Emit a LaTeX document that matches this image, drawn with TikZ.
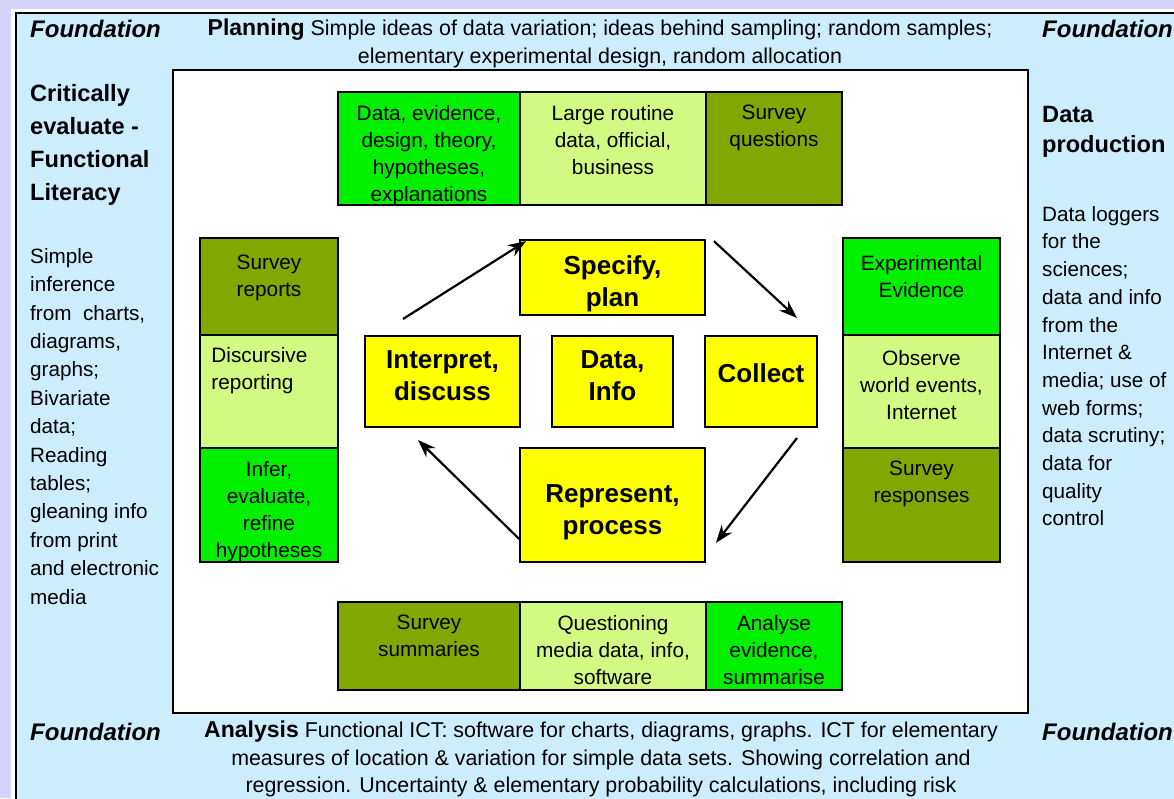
\documentclass[tikz,border=0pt]{standalone}
\usepackage{fontspec}
\setmainfont{Liberation Sans}
\usetikzlibrary{arrows.meta,positioning}

\definecolor{lavbg}{HTML}{D4D4FA}
\definecolor{panelblue}{HTML}{CCEEFC}
\definecolor{brightgrn}{HTML}{00F000}
\definecolor{palegrn}{HTML}{D2FA82}
\definecolor{olivegrn}{HTML}{80A800}
\definecolor{stageyel}{HTML}{FFFF00}

\tikzset{
	cell/.style={draw=black, line width=1.5pt, inner sep=0pt},
	celltxt/.style={anchor=north, yshift=-14pt, align=center, inner sep=0pt, font=\fontsize{20.8}{27}\selectfont},
	stage/.style={draw=black, line width=1.8pt, fill=stageyel, inner sep=0pt},
	stagetxt/.style={align=center, inner sep=0pt, font=\bfseries\fontsize{26}{32}\selectfont},
	flow/.style={-{Stealth[length=18pt,width=13pt]}, line width=2.2pt},
	sidehead/.style={anchor=north west, align=left, inner sep=0pt, font=\bfseries\fontsize{23.6}{33}\selectfont},
	sidetxt/.style={anchor=north west, align=left, inner sep=0pt, font=\fontsize{20.7}{28.4}\selectfont},
	found/.style={anchor=west, inner sep=0pt, font=\bfseries\itshape\fontsize{24}{28}\selectfont},
	bandtxt/.style={align=center, inner sep=0pt, font=\fontsize{21.4}{27.5}\selectfont},
}

\begin{document}
\begin{tikzpicture}[x=1pt, y=-1pt]
	\useasboundingbox (0,0) rectangle (1174,798);

	% backdrop and frame
	\fill[lavbg] (0,0) rectangle (1174,798);
	\fill[white] (11,9) rectangle (1174,798);
	\draw[line width=1.5pt, fill=panelblue] (16,13) rectangle (1190,810);
	\draw[line width=1.8pt, fill=white] (173,70) rectangle (1028,713);

	% band texts
	\node[found] (fnw) at (30,29) {Foundation};
	\node[found] (fne) at (1042,29) {Foundation};
	\node[found] (fsw) at (30,732) {Foundation};
	\node[found] (fse) at (1042,732) {Foundation};
	\node[bandtxt] (plan) at (600,43.5) {{\bfseries\fontsize{23}{28}\selectfont Planning} Simple ideas of data variation; ideas behind sampling; random samples;\\elementary experimental design, random allocation};
	\node[bandtxt] (anal) at (601,759) {{\bfseries\fontsize{23}{28}\selectfont Analysis} Functional ICT: software for charts, diagrams, graphs. ICT for elementary\\measures of location \& variation for simple data sets. Showing correlation and\\regression. Uncertainty \& elementary probability calculations, including risk};

	% side columns
	\node[sidehead] (crit) at (30,84) {Critically\\evaluate -\\Functional\\Literacy};
	\node[sidetxt] (infer) at (30,248) {Simple\\inference\\from\ \ charts,\\diagrams,\\graphs;\\Bivariate\\data;\\Reading\\tables;\\gleaning info\\from print\\and electronic\\media};
	\node[sidehead, font=\bfseries\fontsize{23.6}{30.5}\selectfont] (prod) at (1042,106) {Data\\production};
	\node[sidetxt, font=\fontsize{20.7}{27.7}\selectfont] (logg) at (1042,206) {Data loggers\\for the\\sciences;\\data and info\\from the\\Internet \&\\media; use of\\web forms;\\data scrutiny;\\data for\\quality\\control};

	% top row
	\node[cell, fill=brightgrn, minimum width=182pt, minimum height=113pt] (t1) at (429,148.5) {};
	\node[cell, fill=palegrn, minimum width=186pt, minimum height=113pt] (t2) at (613,148.5) {};
	\node[cell, fill=olivegrn, minimum width=136pt, minimum height=113pt] (t3) at (774,148.5) {};
	\node[celltxt] (t1x) at (t1.north) {Data, evidence,\\design, theory,\\hypotheses,\\explanations};
	\node[celltxt] (t2x) at (t2.north) {Large routine\\data, official,\\business};
	\node[celltxt] (t3x) at (t3.north) {Survey\\questions};

	% left column
	\node[cell, fill=olivegrn, minimum width=138pt, minimum height=97pt] (l1) at (269,286.5) {};
	\node[cell, fill=palegrn, minimum width=138pt, minimum height=113pt] (l2) at (269,391.5) {};
	\node[cell, fill=brightgrn, minimum width=138pt, minimum height=114pt] (l3) at (269,505) {};
	\node[celltxt, yshift=-4pt] (l1x) at (l1.north) {Survey\\reports};
	\node[celltxt, anchor=north west, align=left] (l2x) at ([shift={(12,-1)}]l2.north west) {Discursive\\reporting};
	\node[celltxt] (l3x) at (l3.north) {Infer,\\evaluate,\\refine\\hypotheses};

	% right column
	\node[cell, fill=brightgrn, minimum width=157pt, minimum height=97pt] (r1) at (921.5,286.5) {};
	\node[cell, fill=palegrn, minimum width=157pt, minimum height=113pt] (r2) at (921.5,391.5) {};
	\node[cell, fill=olivegrn, minimum width=157pt, minimum height=114pt] (r3) at (921.5,505) {};
	\node[celltxt, yshift=-4pt] (r1x) at (r1.north) {Experimental\\Evidence};
	\node[celltxt, yshift=-2pt] (r2x) at (r2.north) {Observe\\world events,\\Internet};
	\node[celltxt] (r3x) at (r3.north) {Survey\\responses};

	% bottom row
	\node[cell, fill=olivegrn, minimum width=182pt, minimum height=88pt] (b1) at (429,646) {};
	\node[cell, fill=palegrn, minimum width=186pt, minimum height=88pt] (b2) at (613,646) {};
	\node[cell, fill=brightgrn, minimum width=136pt, minimum height=88pt] (b3) at (774,646) {};
	\node[celltxt] (b1x) at (b1.north) {Survey\\summaries};
	\node[celltxt] (b2x) at (b2.north) {Questioning\\media data, info,\\software};
	\node[celltxt] (b3x) at (b3.north) {Analyse\\evidence,\\summarise};

	% cycle
	\node[stage, minimum width=185pt, minimum height=75pt] (spec) at (612.5,277.5) {};
	\node[stage, minimum width=155pt, minimum height=91pt] (interp) at (442.5,381.5) {};
	\node[stage, minimum width=121pt, minimum height=91pt] (data) at (612.5,381.5) {};
	\node[stage, minimum width=112pt, minimum height=91pt] (coll) at (761,381.5) {};
	\node[stage, minimum width=185pt, minimum height=114pt] (rep) at (612.5,505) {};
	\node[stagetxt] (specx) at (612.5,284) {Specify,\\plan};
	\node[stagetxt] (interpx) at (442.5,376) {Interpret,\\discuss};
	\node[stagetxt] (datax) at (612.5,376) {Data,\\Info};
	\node[stagetxt] (collx) at (761,373) {Collect};
	\node[stagetxt] (repx) at (612.5,512) {Represent,\\process};

	\coordinate (a1) at (403,319);
	\coordinate (a2) at (797,318);
	\coordinate (a3) at (797,438);
	\coordinate (a4) at (418,440);
	\draw[flow] (a1) -- ([shift={(7,2)}]spec.north west);
	\draw[flow] ([shift={(8,2)}]spec.north east) -- (a2);
	\draw[flow] (a3) -- ([shift={(10,-20)}]rep.south east);
	\draw[flow] ([shift={(0,-24)}]rep.south west) -- (a4);
\end{tikzpicture}
\end{document}
